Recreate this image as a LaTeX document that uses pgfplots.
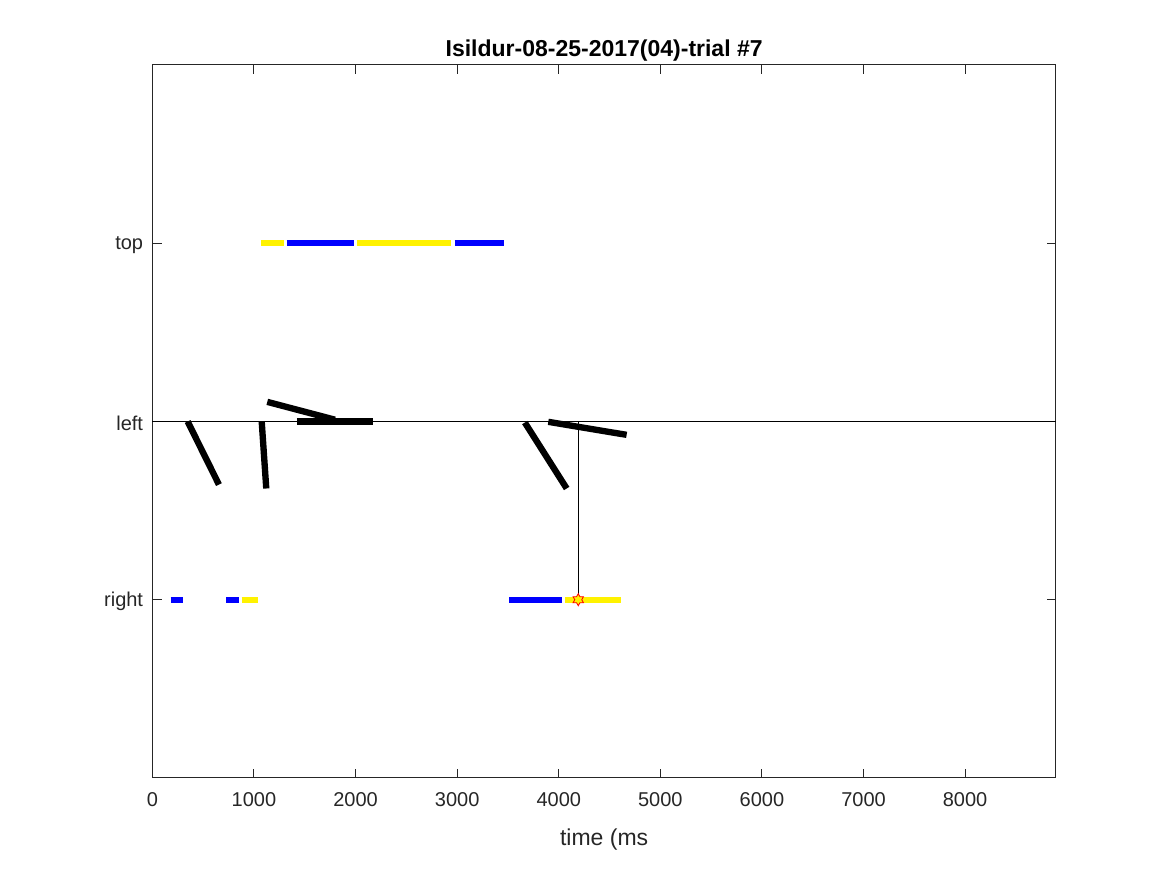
\documentclass[border=0pt]{standalone}
\usepackage{fontspec}
\setmainfont{Liberation Sans}
\usepackage{pgfplots}
\pgfplotsset{compat=1.18}
\definecolor{axgray}{RGB}{38,38,38}
\pgfdeclareplotmark{hexagram}{%
  \pgfpathmoveto{\pgfpointpolar{90}{\pgfplotmarksize}}%
  \pgfpathlineto{\pgfpointpolar{120}{0.577\pgfplotmarksize}}%
  \pgfpathlineto{\pgfpointpolar{150}{\pgfplotmarksize}}%
  \pgfpathlineto{\pgfpointpolar{180}{0.577\pgfplotmarksize}}%
  \pgfpathlineto{\pgfpointpolar{210}{\pgfplotmarksize}}%
  \pgfpathlineto{\pgfpointpolar{240}{0.577\pgfplotmarksize}}%
  \pgfpathlineto{\pgfpointpolar{270}{\pgfplotmarksize}}%
  \pgfpathlineto{\pgfpointpolar{300}{0.577\pgfplotmarksize}}%
  \pgfpathlineto{\pgfpointpolar{330}{\pgfplotmarksize}}%
  \pgfpathlineto{\pgfpointpolar{0}{0.577\pgfplotmarksize}}%
  \pgfpathlineto{\pgfpointpolar{30}{\pgfplotmarksize}}%
  \pgfpathlineto{\pgfpointpolar{60}{0.577\pgfplotmarksize}}%
  \pgfpathclose
  \pgfusepathqfillstroke
}
\begin{document}
\begin{tikzpicture}
\path[use as bounding box] (-91.44pt,-58.2pt) rectangle (608.8pt,466.8pt);
\begin{axis}[
  at={(0,0)}, anchor=south west,
  scale only axis, width=542.16pt, height=427.8pt,
  xmin=0, xmax=8894, ymin=0, ymax=4,
  xtick={0,1000,...,8000},
  ytick={1,2,3}, yticklabels={right,left,top},
  tick align=inside, major tick length=5.6pt,
  axis line style={axgray, line width=0.6pt},
  tick style={axgray, line width=0.6pt},
  /pgf/number format/assume math mode=true,
  /pgf/number format/1000 sep={},
  scaled ticks=false,
  ticklabel style={font=\fontsize{12}{14}\selectfont, text=axgray},
  xticklabel style={anchor=base, yshift=-17.2pt},
  yticklabel style={anchor=east, inner sep=0pt, xshift=-5.4pt, yshift=-1.2pt},
  title={Isildur-08-25-2017(04)-trial \#7},
  title style={at={(0.5,1)}, anchor=base, yshift=-1.2pt, font=\bfseries\fontsize{13.8}{16}\selectfont, text=black},
  xlabel={time (ms},
  xlabel style={at={(0.5,0)}, anchor=base, yshift=-40.8pt, font=\fontsize{13.8}{16}\selectfont, text=axgray},
  clip=false,
]
% top row (y=3)
\addplot[yellow, line width=3.6pt, line cap=butt] coordinates {(1069,3) (1292,3)};
\addplot[blue, line width=3.6pt, line cap=butt] coordinates {(1322,3) (1987,3)};
\addplot[yellow, line width=3.6pt, line cap=butt] coordinates {(2014,3) (2942,3)};
\addplot[blue, line width=3.6pt, line cap=butt] coordinates {(2975,3) (3458,3)};
% right row (y=1)
\addplot[blue, line width=3.6pt, line cap=butt] coordinates {(180,1) (301,1)};
\addplot[blue, line width=3.6pt, line cap=butt] coordinates {(728,1) (849,1)};
\addplot[yellow, line width=3.6pt, line cap=butt] coordinates {(879,1) (1039,1)};
\addplot[blue, line width=3.6pt, line cap=butt] coordinates {(3513,1) (4028,1)};
\addplot[yellow, line width=3.6pt, line cap=butt] coordinates {(4061,1) (4609,1)};
% black segments
\addplot[black, line width=3.8pt, line cap=butt] coordinates {(347,2) (655,1.646)};
\addplot[black, line width=3.8pt, line cap=butt] coordinates {(1076,2) (1121,1.624)};
\addplot[black, line width=3.8pt, line cap=butt] coordinates {(1131,2.11) (1797,2.01)};
\addplot[black, line width=3.8pt, line cap=butt] coordinates {(1423,2) (2168,2)};
\addplot[black, line width=3.8pt, line cap=butt] coordinates {(3666,1.994) (4078,1.624)};
\addplot[black, line width=3.8pt, line cap=butt] coordinates {(3897,1.998) (4668,1.925)};
% thin lines
\addplot[black, line width=0.6pt] coordinates {(0,2) (8894,2)};
\addplot[black, line width=0.6pt] coordinates {(4192,2) (4192,1)};
% event star
\addplot[only marks, mark=hexagram, mark size=3.6pt, mark options={draw=red, fill=yellow, line width=0.5pt}] coordinates {(4192,1)};
\end{axis}
\end{tikzpicture}
\end{document}
